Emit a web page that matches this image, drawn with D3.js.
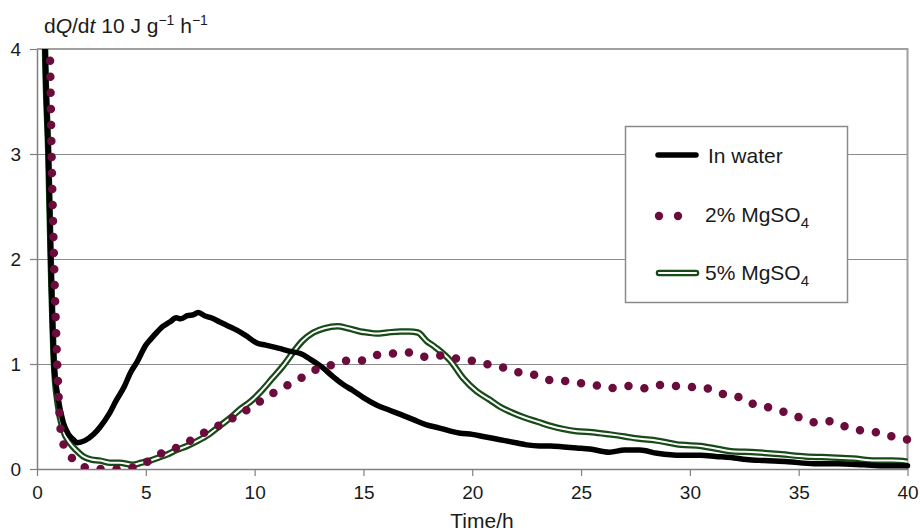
<!DOCTYPE html>
<html>
<head>
<meta charset="utf-8">
<script src="https://cdn.jsdelivr.net/npm/d3@7"></script>
<style>
  html, body { margin: 0; padding: 0; background: #fff; }
  svg { display: block; font-family: "Liberation Sans", Arial, sans-serif; }
</style>
</head>
<body>
<svg id="chart" width="920" height="532"></svg>
<script>
// Heat flow (dQ/dt) versus hydration time
const xTicks = [0, 5, 10, 15, 20, 25, 30, 35, 40];
const yTicks = [0, 1, 2, 3, 4];

// In water
const waterTime = [0.30, 0.37, 0.45, 0.52, 0.63, 0.78, 0.95, 1.21, 1.45, 1.67, 1.85, 2.2, 2.6, 2.9, 3.3, 3.66, 4.0, 4.3, 4.6, 5.0, 5.2, 5.5, 5.8, 6.1, 6.4, 6.6, 6.9, 7.2, 7.4, 7.7, 8.0, 8.4, 8.8, 9.2, 9.6, 10.1, 10.5, 10.9, 11.3, 11.65, 12.1, 12.6, 13.1, 13.6, 14.1, 14.5, 15.0, 15.6, 16.2, 16.7, 17.3, 17.9, 18.5, 19.0, 19.45, 20.0, 20.5, 21.0, 21.5, 22.0, 22.5, 23.1, 23.6, 24.2, 24.8, 25.4, 26.3, 27.0, 27.7, 28.5, 29.6, 30.5, 31.2, 31.9, 32.6, 33.4, 34.5, 35.7, 36.8, 38.0, 39.0, 40.0];
const waterRate = [5.0, 4.0, 3.4, 3.0, 2.0, 1.0, 0.7, 0.44, 0.33, 0.28, 0.25, 0.27, 0.33, 0.40, 0.52, 0.66, 0.78, 0.92, 1.02, 1.18, 1.23, 1.30, 1.36, 1.40, 1.44, 1.43, 1.46, 1.47, 1.49, 1.46, 1.44, 1.40, 1.36, 1.32, 1.27, 1.20, 1.18, 1.16, 1.14, 1.12, 1.10, 1.04, 0.97, 0.88, 0.80, 0.75, 0.68, 0.61, 0.56, 0.52, 0.47, 0.42, 0.39, 0.36, 0.34, 0.33, 0.31, 0.29, 0.27, 0.25, 0.23, 0.22, 0.22, 0.21, 0.20, 0.19, 0.16, 0.18, 0.18, 0.15, 0.13, 0.13, 0.12, 0.11, 0.09, 0.08, 0.07, 0.05, 0.05, 0.04, 0.03, 0.03];

// 2% MgSO4
const mg2Time = [0.45, 0.60, 0.67, 0.78, 0.93, 1.13, 1.44, 1.80, 2.13, 2.9, 3.7, 4.5, 5.27, 5.9, 6.65, 7.34, 8.03, 8.77, 9.46, 10.07, 10.74, 11.45, 12.17, 12.86, 13.55, 14.2, 14.8, 15.5, 16.3, 17.07, 17.76, 18.5, 19.3, 20.0, 20.65, 21.36, 22.13, 22.8, 23.45, 24.15, 24.9, 25.6, 26.35, 27.1, 27.9, 28.6, 29.4, 30.2, 31.0, 31.7, 32.4, 33.1, 33.85, 34.5, 35.2, 35.9, 36.5, 37.2, 37.8, 38.55, 39.3, 40.0];
const mg2Rate = [4.8, 3.9, 3.0, 2.0, 1.0, 0.30, 0.15, 0.07, 0.02, 0.0, 0.0, 0.02, 0.09, 0.17, 0.22, 0.31, 0.38, 0.46, 0.54, 0.62, 0.71, 0.79, 0.87, 0.95, 0.99, 1.03, 1.03, 1.08, 1.10, 1.11, 1.07, 1.08, 1.05, 1.03, 1.00, 0.97, 0.92, 0.90, 0.85, 0.84, 0.82, 0.80, 0.77, 0.79, 0.77, 0.80, 0.79, 0.78, 0.76, 0.70, 0.68, 0.60, 0.58, 0.53, 0.48, 0.44, 0.455, 0.40, 0.37, 0.35, 0.31, 0.28];

// 5% MgSO4
const mg5Time = [0.30, 0.37, 0.52, 0.63, 0.78, 0.95, 1.2, 1.5, 1.8, 2.13, 2.5, 2.9, 3.36, 3.8, 4.4, 4.8, 5.2, 5.6, 6.0, 6.4, 6.9, 7.4, 7.9, 8.4, 8.9, 9.4, 9.8, 10.3, 10.8, 11.3, 11.8, 12.2, 12.7, 13.2, 13.8, 14.3, 14.85, 15.2, 15.6, 16.1, 16.7, 17.1, 17.5, 17.9, 18.3, 19.0, 19.6, 20.2, 20.8, 21.3, 21.8, 22.4, 23.0, 23.6, 24.2, 24.8, 25.5, 26.3, 27.0, 27.6, 28.5, 29.6, 30.5, 31.3, 31.9, 33.0, 34.2, 35.3, 36.5, 37.5, 38.5, 39.3, 40.0];
const mg5Rate = [5.0, 4.0, 3.0, 2.0, 1.0, 0.62, 0.37, 0.25, 0.18, 0.12, 0.09, 0.08, 0.06, 0.06, 0.04, 0.06, 0.08, 0.11, 0.14, 0.18, 0.22, 0.27, 0.33, 0.41, 0.49, 0.58, 0.64, 0.74, 0.86, 0.98, 1.12, 1.22, 1.30, 1.34, 1.36, 1.34, 1.31, 1.30, 1.29, 1.30, 1.31, 1.31, 1.30, 1.22, 1.16, 1.03, 0.86, 0.74, 0.66, 0.59, 0.54, 0.49, 0.45, 0.41, 0.38, 0.36, 0.35, 0.33, 0.31, 0.29, 0.27, 0.23, 0.22, 0.19, 0.17, 0.16, 0.14, 0.12, 0.11, 0.10, 0.08, 0.08, 0.07];

const seriesNames = ["In water", "2% MgSO", "5% MgSO"];

const svg = d3.select("#chart");
const plotLeft = 37, plotRight = 907.5, plotTop = 49, plotBottom = 469;
const ink = "#1a1a1a";

const x = d3.scaleLinear().domain([0, 40]).range([plotLeft, plotRight]);
const y = d3.scaleLinear().domain([0, 4]).range([plotBottom, plotTop]);

const toPoints = (ts, vs) => ts.map((t, i) => [t, vs[i]]);
const line = d3.line().x(d => x(d[0])).y(d => y(d[1])).curve(d3.curveMonotoneX);

// clip to plot region
svg.append("defs").append("clipPath").attr("id", "plotClip")
  .append("rect").attr("x", plotLeft - 10).attr("y", plotTop)
  .attr("width", plotRight - plotLeft + 16).attr("height", plotBottom - plotTop);

// horizontal gridlines
svg.append("g").selectAll("line").data(yTicks.filter(v => v > 0 && v < 4)).join("line")
  .attr("x1", plotLeft).attr("x2", plotRight)
  .attr("y1", d => Math.round(y(d)) + 0.5).attr("y2", d => Math.round(y(d)) + 0.5)
  .attr("stroke", "#8a8a8a").attr("stroke-width", 1);

// top and right frame
svg.append("path")
  .attr("d", `M${plotLeft},${plotTop}H${plotRight}V${plotBottom}`)
  .attr("fill", "none").attr("stroke", "#a0a0a0").attr("stroke-width", 2);

// axes
const fmt = d3.format("d");
const xAxis = d3.axisBottom(x).tickValues(xTicks).tickFormat(fmt).tickSize(7).tickSizeOuter(0).tickPadding(9.5);
const yAxis = d3.axisLeft(y).tickValues(yTicks).tickFormat(fmt).tickSize(7).tickSizeOuter(0).tickPadding(9);

const gx = svg.append("g").attr("transform", `translate(0,${plotBottom})`).call(xAxis);
const gy = svg.append("g").attr("transform", `translate(${plotLeft},0)`).call(yAxis);
[gx, gy].forEach(g => {
  g.select(".domain").attr("stroke", "#808080").attr("stroke-width", 1.5);
  g.selectAll(".tick line").attr("stroke", "#808080").attr("stroke-width", 1.2);
  g.selectAll(".tick text").attr("fill", ink).attr("font-size", 19)
    .attr("font-family", "'Liberation Sans', Arial, sans-serif");
});

// series
const plot = svg.append("g").attr("clip-path", "url(#plotClip)");
const green = "#174a17", purple = "#6b0c3c";

const mg5 = toPoints(mg5Time, mg5Rate);
plot.append("path").attr("d", line(mg5)).attr("fill", "none")
  .attr("stroke", green).attr("stroke-width", 6.5).attr("stroke-linejoin", "round");
plot.append("path").attr("d", line(mg5)).attr("fill", "none")
  .attr("stroke", "#fff").attr("stroke-width", 2).attr("stroke-linejoin", "round");

plot.append("path").attr("d", line(toPoints(waterTime, waterRate))).attr("fill", "none")
  .attr("stroke", "#000").attr("stroke-width", 5.5).attr("stroke-linejoin", "round").attr("stroke-linecap", "round");

plot.append("path").attr("d", line(toPoints(mg2Time, mg2Rate))).attr("fill", "none")
  .attr("stroke", purple).attr("stroke-width", 8.5)
  .attr("stroke-linecap", "round").attr("stroke-dasharray", "0 16");

// axis titles
const title = svg.append("text").attr("x", 44).attr("y", 33).attr("font-size", 21).attr("fill", ink);
title.append("tspan").text("d");
title.append("tspan").attr("font-style", "italic").text("Q");
title.append("tspan").text("/d");
title.append("tspan").attr("font-style", "italic").text("t");
title.append("tspan").text(" 10 J g");
title.append("tspan").attr("font-size", 14).attr("dy", -8).text("\u22121");
title.append("tspan").attr("dy", 8).text(" h");
title.append("tspan").attr("font-size", 14).attr("dy", -8).text("\u22121");

svg.append("text").attr("x", 482).attr("y", 528).attr("text-anchor", "middle")
  .attr("font-size", 21).attr("fill", ink).text("Time/h");

// legend
const lg = svg.append("g");
lg.append("rect").attr("x", 625.5).attr("y", 126.5).attr("width", 222).attr("height", 176)
  .attr("fill", "#fff").attr("stroke", "#8a8a8a").attr("stroke-width", 1.5);

lg.append("line").attr("x1", 658).attr("x2", 696).attr("y1", 155).attr("y2", 155)
  .attr("stroke", "#000").attr("stroke-width", 5.5).attr("stroke-linecap", "round");
lg.append("text").attr("x", 708).attr("y", 163).attr("font-size", 21).attr("fill", ink).text(seriesNames[0]);

lg.selectAll("circle").data([659, 678]).join("circle")
  .attr("cx", d => d).attr("cy", 216).attr("r", 4.2).attr("fill", purple);
const t2 = lg.append("text").attr("x", 705).attr("y", 222).attr("font-size", 21).attr("fill", ink);
t2.append("tspan").text(seriesNames[1]);
t2.append("tspan").attr("font-size", 15).attr("dy", 6).text("4");

lg.append("line").attr("x1", 659).attr("x2", 696).attr("y1", 273).attr("y2", 273)
  .attr("stroke", green).attr("stroke-width", 6.5).attr("stroke-linecap", "round");
lg.append("line").attr("x1", 659).attr("x2", 696).attr("y1", 273).attr("y2", 273)
  .attr("stroke", "#fff").attr("stroke-width", 2.2).attr("stroke-linecap", "round");
const t3 = lg.append("text").attr("x", 705).attr("y", 280).attr("font-size", 21).attr("fill", ink);
t3.append("tspan").text(seriesNames[2]);
t3.append("tspan").attr("font-size", 15).attr("dy", 6).text("4");
</script>
</body>
</html>
